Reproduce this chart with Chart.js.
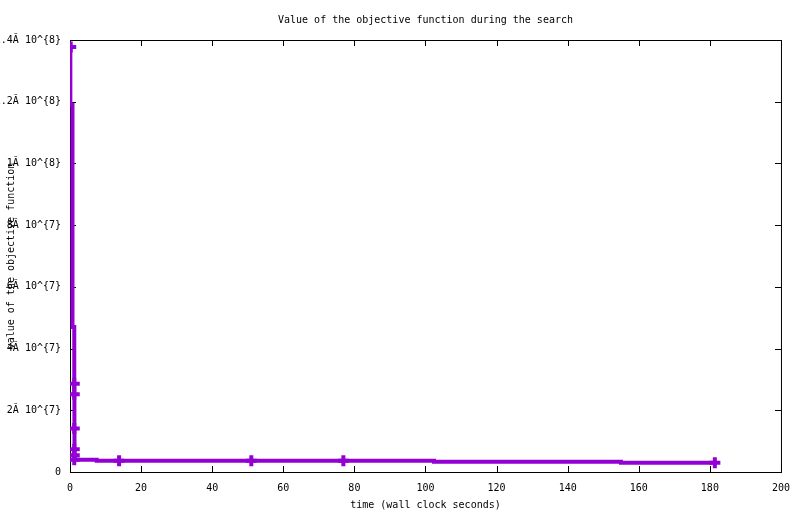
<!DOCTYPE html>
<html>
<head>
<meta charset="utf-8">
<title>Value of the objective function during the search</title>
<script src="https://cdn.jsdelivr.net/npm/chart.js@4.4.1/dist/chart.umd.min.js"></script>
<style>
  html, body { margin: 0; padding: 0; background: #fff; }
  #wrap { width: 800px; height: 514px; }
</style>
</head>
<body>
<div id="wrap"><canvas id="objChart"></canvas></div>
<script>
const chartTitle = 'Value of the objective function during the search';
const xTitle = 'time (wall clock seconds)';
const yTitle = 'value of the objective function';

// best objective value over time, drawn as steps
const stepTimes = [0, 0.1, 0.7, 1.2, 1.22, 1.24, 1.26, 1.28, 1.3, 7.5, 102.4, 155.0, 181.4];
const stepValues = [1.377e8, 1.19e8, 4.7e7, 2.86e7, 2.52e7, 1.41e7, 7.4e6, 5.4e6, 4.0e6, 3.65e6, 3.35e6, 3.0e6, 3.0e6];

// samples marked with a cross
const markTimes = [0.2, 1.2, 1.2, 1.2, 1.2, 1.2, 1.2, 13.8, 51.0, 76.9, 181.4];
const markValues = [1.377e8, 2.86e7, 2.52e7, 1.41e7, 7.4e6, 5.4e6, 4.0e6, 3.65e6, 3.65e6, 3.65e6, 3.0e6];

const xTicks = [0, 20, 40, 60, 80, 100, 120, 140, 160, 180, 200];
const yTicks = [0, 2e7, 4e7, 6e7, 8e7, 1e8, 1.2e8, 1.4e8];
const yTickLabels = ['0', '2Ă 10^{7}', '4Ă 10^{7}', '6Ă 10^{7}', '8Ă 10^{7}', '1Ă 10^{8}', '1.2Ă 10^{8}', '1.4Ă 10^{8}'];

const lineColor = 'rgb(148, 0, 211)';
const monoFont = { family: "'DejaVu Sans Mono', monospace", size: 10 };

// gnuplot-like frame: full border box, ticks pointing inward on all sides, title on top
const framePlugin = {
  id: 'frame',
  beforeDatasetsDraw(chart) {
    const { ctx, chartArea: a, scales } = chart;
    ctx.save();
    ctx.strokeStyle = '#000';
    ctx.lineWidth = 1;
    ctx.strokeRect(a.left + 0.5, a.top + 0.5, a.right - a.left, a.bottom - a.top);
    ctx.beginPath();
    xTicks.forEach(v => {
      const x = Math.round(scales.x.getPixelForValue(v)) + 0.5;
      ctx.moveTo(x, a.bottom); ctx.lineTo(x, a.bottom - 6);
      ctx.moveTo(x, a.top); ctx.lineTo(x, a.top + 6);
    });
    yTicks.forEach(v => {
      const y = Math.round(scales.y.getPixelForValue(v)) + 0.5;
      ctx.moveTo(a.left, y); ctx.lineTo(a.left + 6, y);
      ctx.moveTo(a.right, y); ctx.lineTo(a.right - 6, y);
    });
    ctx.stroke();
    ctx.restore();
  },
  afterDraw(chart) {
    const { ctx, chartArea: a } = chart;
    ctx.save();
    ctx.fillStyle = '#000';
    ctx.font = "10px 'DejaVu Sans Mono', monospace";
    ctx.textAlign = 'center';
    ctx.textBaseline = 'middle';
    ctx.fillText(chartTitle, (a.left + a.right) / 2, 20);
    ctx.restore();
  }
};

const ctx = document.getElementById('objChart').getContext('2d');
const objChart = new Chart(ctx, {
  type: 'line',
  data: {
    datasets: [
      {
        label: 'objective',
        data: stepTimes.map((t, i) => ({ x: t, y: stepValues[i] })),
        order: 1,
        borderColor: lineColor,
        borderWidth: 4,
        stepped: true,
        pointRadius: 0,
        fill: false
      },
      {
        label: 'samples',
        data: markTimes.map((t, i) => ({ x: t, y: markValues[i] })),
        order: 0,
        showLine: false,
        pointStyle: 'cross',
        pointRadius: 5.5,
        pointBorderWidth: 4,
        pointBorderColor: lineColor,
        pointBackgroundColor: lineColor
      }
    ]
  },
  options: {
    responsive: true,
    maintainAspectRatio: false,
    animation: false,
    devicePixelRatio: 1,
    layout: { padding: { top: 40, right: 18, left: 0, bottom: 0 } },
    plugins: {
      legend: { display: false },
      title: { display: false },
      tooltip: { enabled: false }
    },
    scales: {
      x: {
        type: 'linear',
        min: 0,
        max: 200,
        afterBuildTicks: s => { s.ticks = xTicks.map(v => ({ value: v })); },
        afterFit: s => { s.height = 42; },
        grid: { display: false, drawTicks: false },
        border: { display: false },
        ticks: { color: '#000', font: monoFont, padding: 10, maxRotation: 0 },
        title: { display: true, text: xTitle, color: '#000', font: monoFont, padding: { top: 0, bottom: 3 } }
      },
      y: {
        type: 'linear',
        min: 0,
        max: 1.4e8,
        afterBuildTicks: s => { s.ticks = yTicks.map(v => ({ value: v })); },
        afterFit: s => { s.width = 70; },
        grid: { display: false, drawTicks: false },
        border: { display: false },
        ticks: {
          color: '#000',
          font: monoFont,
          padding: 9,
          callback: (v, i) => yTickLabels[i]
        },
        title: { display: true, text: yTitle, color: '#000', font: monoFont, padding: { top: 5, bottom: 0 } }
      }
    }
  },
  plugins: [framePlugin]
});
</script>
</body>
</html>
